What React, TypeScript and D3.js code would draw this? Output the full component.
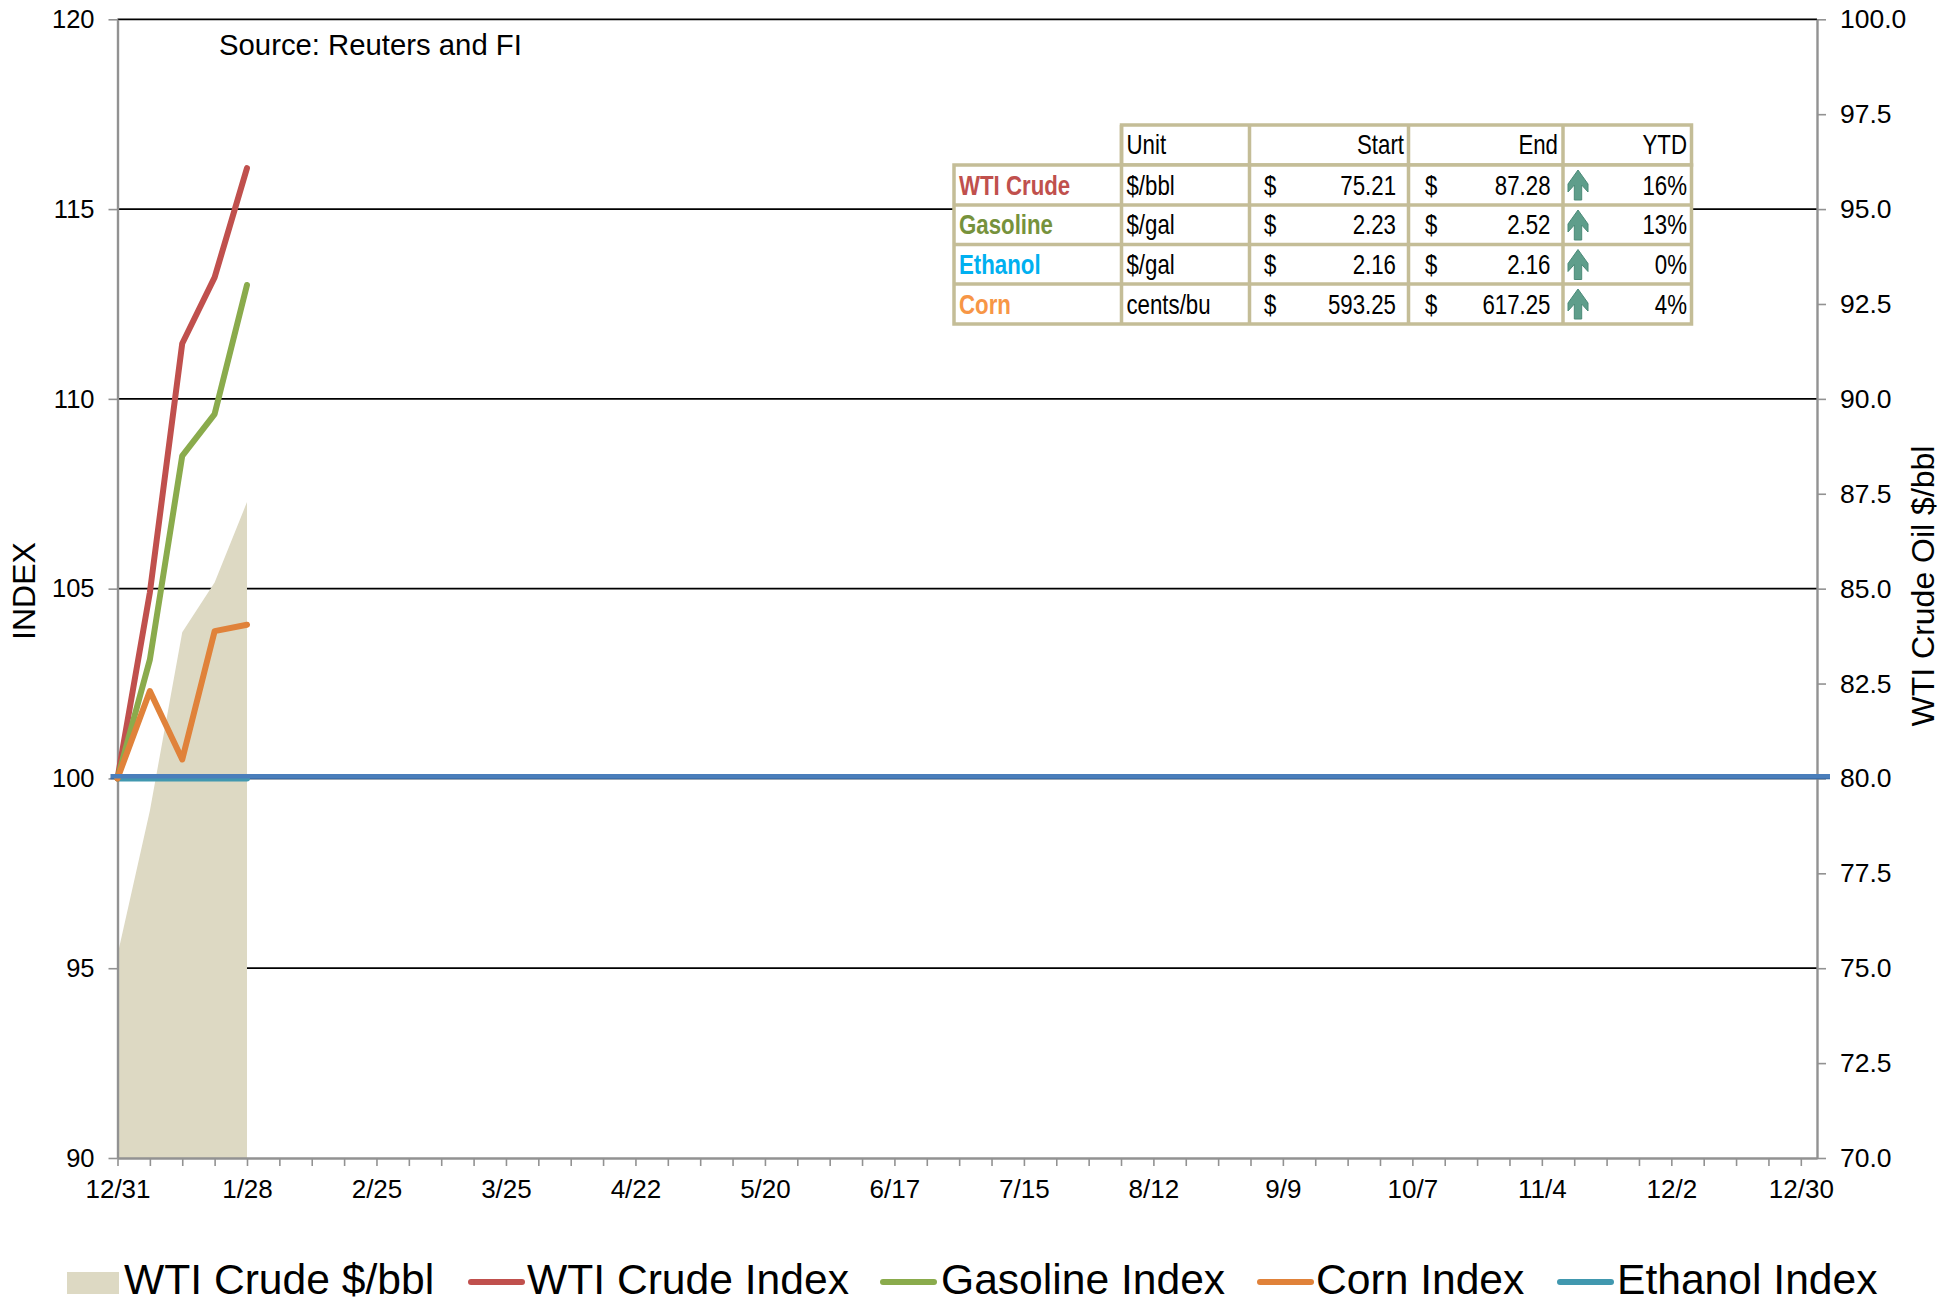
import { useEffect, useRef } from "react";
import * as d3 from "d3";

// weekly dates that have prices so far
const dates = ["2022-12-31", "2023-01-07", "2023-01-14", "2023-01-21", "2023-01-28"];
const wtiPrice = [75.35, 79.15, 83.85, 85.16, 87.28];
const wtiIndex = [100, 104.9, 111.46, 113.2, 116.08];
const gasolineIndex = [100, 103.13, 108.5, 109.6, 113.0];
const cornIndex = [100, 102.3, 100.5, 103.88, 104.05];
const ethanolIndex = [100, 100, 100, 100, 100];

const leftTicks = [90, 95, 100, 105, 110, 115, 120];
const gridValues = [95, 100, 105, 110, 115, 120];
const rightTicks = [70, 72.5, 75, 77.5, 80, 82.5, 85, 87.5, 90, 92.5, 95, 97.5, 100];

const tableHeader = ["Unit", "Start", "End", "YTD"];
const tableNames = ["WTI Crude", "Gasoline", "Ethanol", "Corn"];
const tableUnits = ["$/bbl", "$/gal", "$/gal", "cents/bu"];
const tableStart = ["75.21", "2.23", "2.16", "593.25"];
const tableEnd = ["87.28", "2.52", "2.16", "617.25"];
const tableYtd = ["16%", "13%", "0%", "4%"];
const tableColors = ["#c0504d", "#76923c", "#00b0f0", "#f79646"];

const legendNames = ["WTI Crude $/bbl", "WTI Crude Index", "Gasoline Index", "Corn Index", "Ethanol Index"];
const legendColors = ["#ddd9c3", "#c0504d", "#8aab4c", "#e0823a", "#4198af"];
const legendSwatchX = [67, 468, 880, 1257, 1557];
const legendTextX = [124, 527, 941, 1316, 1617];

const FONT = "'Liberation Sans', Arial, sans-serif";
const AXIS_GRAY = "#929292";

const width = 1958;
const height = 1303;
const plot = { left: 117.5, right: 1817, top: 19.3, bottom: 1158 };

// table layout
const colX = [954, 1121.5, 1249.5, 1408.5, 1563, 1691.5];
const rowY = [125, 165, 205, 244.5, 284, 324];

const parse = d3.utcParse("%Y-%m-%d");
const startDate = parse("2022-12-31")!;
const endDate = d3.utcHour.offset(parse("2023-12-30")!, 84);
const weekTicks = d3.range(53).map((i) => d3.utcDay.offset(startDate, i * 7));

// table text is squeezed sideways in the source
function Cell({ x, y, end, bold, fill, children }: any) {
  return (
    <text
      transform={`translate(${x},${y}) scale(0.795,1)`}
      textAnchor={end ? "end" : "start"}
      fontFamily={FONT}
      fontSize={28}
      fontWeight={bold ? "bold" : "normal"}
      fill={fill ?? "#000"}
    >
      {children}
    </text>
  );
}

export default function App() {
  const svgRef = useRef<SVGSVGElement>(null);

  useEffect(() => {
    const svg = d3.select(svgRef.current!);
    svg.selectAll("*").remove();

    const x = d3.scaleUtc().domain([startDate, endDate]).range([plot.left, plot.right]);
    const yLeft = d3.scaleLinear().domain([90, 120]).range([plot.bottom, plot.top]);
    const yRight = d3.scaleLinear().domain([70, 100]).range([plot.bottom, plot.top]);
    const times = dates.map((d) => parse(d)!);

    svg
      .append("g")
      .selectAll("line")
      .data(gridValues)
      .join("line")
      .attr("x1", plot.left)
      .attr("x2", plot.right)
      .attr("y1", (d) => yLeft(d))
      .attr("y2", (d) => yLeft(d))
      .attr("stroke", "#000")
      .attr("stroke-width", 1.8);

    // price area
    const area = d3
      .area<number>()
      .x((_, i) => x(times[i]))
      .y0(plot.bottom)
      .y1((d) => yRight(d));
    svg.append("path").datum(wtiPrice).attr("fill", "#ddd9c3").attr("d", area);

    // axes
    const styleAxis = (fontSize: number) => (g: any) => {
      g.select(".domain").attr("stroke", AXIS_GRAY).attr("stroke-width", 2.4);
      g.selectAll(".tick line").attr("stroke", AXIS_GRAY).attr("stroke-width", 1.6);
      g.selectAll("text").attr("fill", "#000").style("font-family", FONT).style("font-size", `${fontSize}px`);
    };

    svg
      .append("g")
      .attr("transform", `translate(${plot.left},0)`)
      .call(d3.axisLeft(yLeft).tickValues(leftTicks).tickSize(9).tickSizeOuter(0).tickPadding(14))
      .call(styleAxis(25.5));

    svg
      .append("g")
      .attr("transform", `translate(${plot.right},0)`)
      .call(
        d3
          .axisRight(yRight)
          .tickValues(rightTicks)
          .tickSize(9)
          .tickSizeOuter(0)
          .tickPadding(14)
          .tickFormat(d3.format(".1f") as any)
      )
      .call(styleAxis(26.5));

    svg
      .append("g")
      .attr("transform", `translate(0,${plot.bottom})`)
      .call(
        d3
          .axisBottom(x)
          .tickValues(weekTicks)
          .tickSize(8)
          .tickSizeOuter(0)
          .tickPadding(14)
          .tickFormat(((d: Date, i: number) => (i % 4 === 0 ? d3.utcFormat("%-m/%-d")(d) : "")) as any)
      )
      .call(styleAxis(26));

    // dark edge of the marker at 100
    svg
      .append("line")
      .attr("x1", plot.left - 7)
      .attr("x2", plot.right + 13)
      .attr("y1", yLeft(100))
      .attr("y2", yLeft(100))
      .attr("stroke", "#2f5f96")
      .attr("stroke-width", 1.6);

    // index lines
    const line = d3
      .line<number>()
      .x((_, i) => x(times[i]))
      .y((d) => yLeft(d));
    const series: [number[], string][] = [
      [ethanolIndex, "#4198af"],
      [wtiIndex, "#c0504d"],
      [gasolineIndex, "#8aab4c"],
      [cornIndex, "#e0823a"],
    ];
    series.forEach(([values, color]) => {
      svg
        .append("path")
        .datum(values)
        .attr("fill", "none")
        .attr("stroke", color)
        .attr("stroke-width", 6)
        .attr("stroke-linecap", "round")
        .attr("stroke-linejoin", "round")
        .attr("d", line);
    });

    // blue marker running the whole width
    svg
      .append("line")
      .attr("x1", plot.left - 7)
      .attr("x2", plot.right + 13)
      .attr("y1", yLeft(100.06))
      .attr("y2", yLeft(100.06))
      .attr("stroke", "#4a7ebb")
      .attr("stroke-width", 4.5);
  }, []);

  return (
    <svg
      width={width}
      height={height}
      style={{ position: "absolute", left: 0, top: 0, display: "block", background: "#fff" }}
    >
      <g ref={svgRef} />

      <text x={219} y={55} fontFamily={FONT} fontSize={29.3}>
        Source: Reuters and FI
      </text>
      <text
        transform="translate(35,591) rotate(-90)"
        textAnchor="middle"
        fontFamily={FONT}
        fontSize={32}
      >
        INDEX
      </text>
      <text
        transform="translate(1934,586) rotate(-90)"
        textAnchor="middle"
        fontFamily={FONT}
        fontSize={32}
      >
        WTI Crude Oil $/bbl
      </text>

      {/* summary table */}
      <g>
        <rect
          x={colX[1]}
          y={rowY[0]}
          width={colX[5] - colX[1]}
          height={rowY[1] - rowY[0]}
          fill="#fff"
          stroke="#c4bd97"
          strokeWidth={3.5}
        />
        <rect
          x={colX[0]}
          y={rowY[1]}
          width={colX[5] - colX[0]}
          height={rowY[5] - rowY[1]}
          fill="#fff"
          stroke="#c4bd97"
          strokeWidth={3.5}
        />
        {colX.slice(1, 5).map((cx) => (
          <line key={cx} x1={cx} x2={cx} y1={rowY[0]} y2={rowY[5]} stroke="#c4bd97" strokeWidth={3.5} />
        ))}
        {rowY.slice(2, 5).map((ry) => (
          <line key={ry} x1={colX[0]} x2={colX[5]} y1={ry} y2={ry} stroke="#c4bd97" strokeWidth={3.5} />
        ))}

        <Cell x={1126.5} y={154}>{tableHeader[0]}</Cell>
        <Cell x={1404} y={154} end>{tableHeader[1]}</Cell>
        <Cell x={1558} y={154} end>{tableHeader[2]}</Cell>
        <Cell x={1687} y={154} end>{tableHeader[3]}</Cell>

        {tableNames.map((name, i) => {
          const base = rowY[i + 2] - 10.5;
          return (
            <g key={name}>
              <Cell x={959} y={base} bold fill={tableColors[i]}>{name}</Cell>
              <Cell x={1126.5} y={base}>{tableUnits[i]}</Cell>
              <Cell x={1264} y={base}>$</Cell>
              <Cell x={1396} y={base} end>{tableStart[i]}</Cell>
              <Cell x={1425} y={base}>$</Cell>
              <Cell x={1550.5} y={base} end>{tableEnd[i]}</Cell>
              <Cell x={1687} y={base} end>{tableYtd[i]}</Cell>
              <path
                transform={`translate(1578,${rowY[i + 1] + 5})`}
                d="M0,0 L10,14 L10,22 L3.7,15 L3.7,30 L-3.7,30 L-3.7,15 L-10,22 L-10,14 Z"
                fill="#5f9e8b"
                stroke="#4a8a77"
                strokeWidth={1}
              />
            </g>
          );
        })}
      </g>

      {/* legend */}
      <g>
        {legendNames.map((name, i) => (
          <g key={name}>
            {i === 0 ? (
              <rect x={legendSwatchX[i]} y={1272} width={52} height={22} fill={legendColors[i]} />
            ) : (
              <line
                x1={legendSwatchX[i] + 3}
                x2={legendSwatchX[i] + 54}
                y1={1282}
                y2={1282}
                stroke={legendColors[i]}
                strokeWidth={6}
                strokeLinecap="round"
              />
            )}
            <text x={legendTextX[i]} y={1294} fontFamily={FONT} fontSize={42.6}>
              {name}
            </text>
          </g>
        ))}
      </g>
    </svg>
  );
}
